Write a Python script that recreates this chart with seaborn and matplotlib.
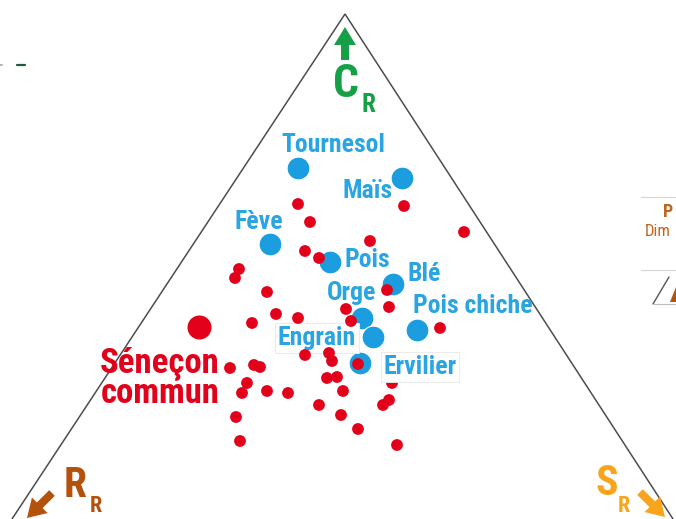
import matplotlib
matplotlib.use("Agg")
import matplotlib.pyplot as plt
import seaborn as sns
import pandas as pd
from matplotlib import font_manager as fm
from matplotlib.patches import Polygon, FancyArrow

# Crops placed in the CSR triangle (plane units, y pointing down)
crops = ["Tournesol", "Maïs", "Fève", "Pois", "Blé", "Orge", "Engrain", "Pois chiche", "Ervilier"]
crop_x = [298, 402, 270, 330, 393, 362, 373, 417, 360]
crop_y = [168, 178, 244, 262, 284, 318, 337, 330, 363]

# Common groundsel: species mean and individual populations
weed_name = ["Séneçon", "commun"]
weed_x = [199]
weed_y = [327]
pop_x = [298, 310, 404, 464, 370, 305, 319, 239, 235, 267, 276, 298, 252, 346,
         351, 387, 389, 440, 305, 329, 332, 358, 408, 230, 254, 260, 247, 242,
         267, 288, 327, 337, 343, 392, 383, 389, 319, 341, 236, 358, 240, 397]
pop_y = [204, 222, 206, 232, 241, 251, 258, 269, 278, 292, 314, 318, 323, 309,
         321, 290, 307, 328, 355, 353, 361, 364, 376, 368, 365, 367, 383, 393,
         391, 393, 378, 377, 391, 383, 405, 400, 405, 415, 417, 429, 441, 445]

# Label anchors for the crops
label_pos = {
    "Tournesol": (333, 145), "Maïs": (368, 191), "Fève": (259, 222),
    "Pois": (367, 260), "Blé": (424, 274), "Orge": (352, 293),
    "Pois chiche": (473, 306), "Engrain": (317, 338), "Ervilier": (420, 367),
}
boxed = {"Engrain", "Ervilier"}

sns.set_style("white")
bold_fams = {f.name for f in fm.fontManager.ttflist
             if (f.weight if isinstance(f.weight, int) else 400) >= 700 or f.weight == "bold"}
narrow = next((n for n in ["Liberation Sans Narrow", "Arial Narrow", "Archivo Narrow",
                           "Roboto Condensed", "PT Sans Narrow", "Pragati Narrow",
                           "Barlow Condensed", "Liberation Sans"]
               if n in bold_fams), "DejaVu Sans")
plt.rcParams["font.family"] = [narrow, "DejaVu Sans"]

BLUE = "#1b9de0"
LBLUE = "#2aa5e2"
RED = "#e3001b"
GREEN = "#15a046"
BROWN = "#b4520c"
ORANGE = "#f9a51c"

fig = plt.figure(figsize=(6.76, 5.19), dpi=100)
ax = fig.add_axes([0, 0, 1, 1])
ax.set_xlim(0, 676)
ax.set_ylim(519, 0)
ax.axis("off")

# Triangle outline (apex = C, bottom corners R and S)
ax.plot([12, 345, 673], [519, 14, 519], color="#4d4d4d", lw=1.1, zorder=1,
        solid_joinstyle="miter")

crop_df = pd.DataFrame({"x": crop_x, "y": crop_y, "espece": crops})
pop_df = pd.DataFrame({"x": pop_x, "y": pop_y})
weed_df = pd.DataFrame({"x": weed_x, "y": weed_y})

sns.scatterplot(data=crop_df, x="x", y="y", s=270, color=BLUE, edgecolor="white",
                linewidth=0.8, ax=ax, zorder=3, legend=False)
sns.scatterplot(data=pop_df, x="x", y="y", s=72, color=RED, edgecolor="none",
                ax=ax, zorder=4, legend=False)
sns.scatterplot(data=weed_df, x="x", y="y", s=380, color=RED, edgecolor="white",
                linewidth=2.2, ax=ax, zorder=4, legend=False)

for name in crops:
    tx, ty = label_pos[name]
    kw = {}
    if name in boxed:
        kw["bbox"] = dict(boxstyle="square,pad=0.1", fc="white", ec="#e8e8e8", lw=0.6)
    ax.text(tx, ty, name, color=LBLUE, fontsize=18.5, fontweight="bold",
            ha="center", va="center", zorder=5 if name == "Ervilier" else 3.5, **kw)

ax.text(160, 372, weed_name[0], color=RED, fontsize=25, fontweight="bold",
        ha="center", va="baseline", zorder=5)
ax.text(160, 403, weed_name[1], color=RED, fontsize=25, fontweight="bold",
        ha="center", va="baseline", zorder=5)

# Strategy poles
def pole_arrow(x0, y0, x1, y1, color):
    ax.add_patch(FancyArrow(x0, y0, x1 - x0, y1 - y0, width=8, head_width=22,
                            head_length=18, length_includes_head=True,
                            fc=color, ec="none", zorder=5))

pole_arrow(345, 60, 345, 27, GREEN)
ax.text(346, 97, "C", color=GREEN, fontsize=33, fontweight="bold", ha="center", va="baseline")
ax.text(368, 112, "R", color=GREEN, fontsize=18, fontweight="bold", ha="center", va="baseline")

pole_arrow(52, 493, 27, 518, BROWN)
ax.text(75, 497, "R", color=BROWN, fontsize=30, fontweight="bold", ha="center", va="baseline")
ax.text(96, 512, "R", color=BROWN, fontsize=16, fontweight="bold", ha="center", va="baseline")

pole_arrow(640, 492, 665, 517, ORANGE)
ax.text(607, 495, "S", color=ORANGE, fontsize=30, fontweight="bold", ha="center", va="baseline")
ax.text(624, 512, "R", color=ORANGE, fontsize=16, fontweight="bold", ha="center", va="baseline")

# Neighbouring panel edges and page marks
ax.plot([641, 676], [197, 197], color="#d6d6d6", lw=0.8)
ax.plot([641, 676], [270, 270], color="#d6d6d6", lw=0.8)
ax.text(668, 212, "P", color="#c0651e", fontsize=13, fontweight="bold", ha="center", va="center")
ax.text(645, 232, "Dim", color="#c0651e", fontsize=12, ha="left", va="center", clip_on=False)
ax.plot([653, 669], [304, 277], color="#555555", lw=1.0)
ax.plot([653, 676], [304, 304], color="#bfbfbf", lw=0.8)
ax.add_patch(Polygon([[670, 302], [676, 302], [676, 287]], closed=True, fc=BROWN, ec="none"))
ax.plot([0, 2], [65, 65], color="#9aa", lw=1.2)
ax.plot([17, 25], [65, 65], color="#1d5c3a", lw=1.6)

fig.savefig("out.png", dpi=100)
